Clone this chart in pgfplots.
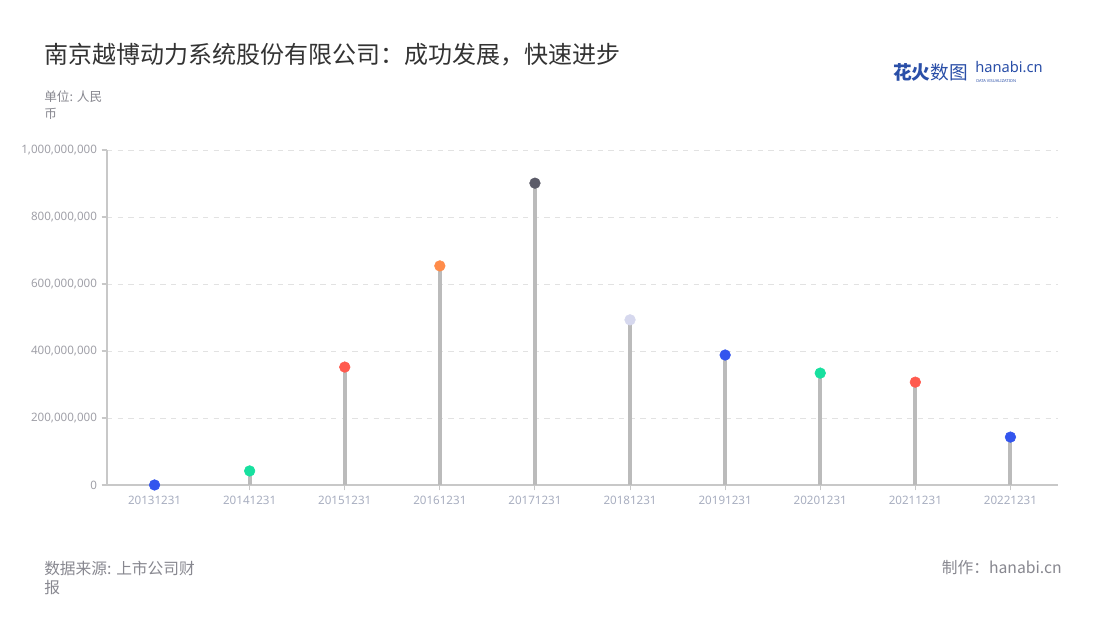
\documentclass[border=0pt]{standalone}
\usepackage{pgfplots}
\pgfplotsset{compat=1.18}
\usepackage{fontspec}
\setmainfont{Noto Sans CJK SC}
\newfontfamily\latinf{Noto Sans}
\definecolor{axisgray}{HTML}{C8C8C8}
\definecolor{gridgray}{HTML}{E2E2E2}
\definecolor{ticklab}{HTML}{A0A0A8}
\definecolor{xlab}{HTML}{A8AEC0}
\definecolor{stem}{HTML}{BBBBBB}
\definecolor{cblue}{HTML}{3355EE}
\definecolor{cgreen}{HTML}{17E09F}
\definecolor{cred}{HTML}{FF5A4E}
\definecolor{corange}{HTML}{FF8C4A}
\definecolor{cdark}{HTML}{5B5B68}
\definecolor{clav}{HTML}{D6D8EE}
\definecolor{titlec}{HTML}{333333}
\definecolor{subc}{HTML}{888890}
\definecolor{logoblue}{HTML}{2A4FA8}
\begin{document}
\begin{tikzpicture}[x=0.75pt,y=0.75pt]
\path[use as bounding box] (0,0) rectangle (1100,620);
\fill[white] (0,0) rectangle (1100,620);
% title
\node[anchor=west,inner sep=0pt,text=titlec,font=\fontsize{18}{20}\selectfont] at (44,565) {南京越博动力系统股份有限公司：成功发展，快速进步};
\node[anchor=west,inner sep=0pt,text=subc,font=\fontsize{9.5}{11}\selectfont] at (44,523) {单位: 人民};
\node[anchor=west,inner sep=0pt,text=subc,font=\fontsize{9.5}{11}\selectfont] at (44,506) {币};
% logo
\node[anchor=west,inner sep=0pt,text=logoblue,font=\fontsize{14}{15}\selectfont] at (893,548) {\textbf{花火}数图};
\node[anchor=base west,inner sep=0pt,text=logoblue,font=\latinf\fontsize{11}{12}\selectfont\bfseries] at (975,547) {hanabi.cn};
\node[anchor=base west,inner sep=0pt,text=logoblue,font=\latinf\fontsize{3}{3}\selectfont\bfseries] at (976,537) {DATA VISUALIZATION};
% footer
\node[anchor=west,inner sep=0pt,text=subc,font=\fontsize{11.8}{13}\selectfont] at (44,52) {数据来源: 上市公司财};
\node[anchor=west,inner sep=0pt,text=subc,font=\fontsize{11.8}{13}\selectfont] at (44,32) {报};
\node[anchor=east,inner sep=0pt,text=subc,font=\fontsize{11.8}{13}\selectfont] at (1062,52) {制作：hanabi.cn};
\begin{axis}[
  at={(80.25pt,101.25pt)}, anchor=south west,
  scale only axis, width=713.25pt, height=251.25pt,
  xmin=-0.5, xmax=9.5, ymin=0, ymax=1000000000,
  scaled y ticks=false,
  axis lines=left, axis line style={axisgray, line width=1.1pt, -},
  xtick={0,...,9},
  xticklabels={20131231,20141231,20151231,20161231,20171231,20181231,20191231,20201231,20211231,20221231},
  ytick={0,200000000,400000000,600000000,800000000,1000000000},
  yticklabels={0,{200,000,000},{400,000,000},{600,000,000},{800,000,000},{1,000,000,000}},
  tick style={axisgray, line width=0.8pt},
  tick align=outside, major tick length=4pt,
  x tick label style={text=xlab, font=\latinf\fontsize{8.7}{9}\selectfont, yshift=-1pt},
  y tick label style={text=ticklab, font=\latinf\fontsize{8.7}{9}\selectfont},
  /pgf/number format/assume math mode=true,
  ymajorgrids, grid style={gridgray, dashed, line width=0.6pt, dash pattern=on 4pt off 4pt},
  clip=false, axis on top=false,
]
\addplot[ycomb, stem, line width=3pt, no marks] coordinates {
 (0,0) (1,42000000) (2,352000000) (3,654000000) (4,901000000)
 (5,493000000) (6,388000000) (7,334000000) (8,307000000) (9,143000000)};
\addplot[only marks, mark=*, mark size=4pt, cblue, mark options={draw=cblue, fill=cblue}] coordinates {(0,0) (6,388000000) (9,143000000)};
\addplot[only marks, mark=*, mark size=4pt, mark options={draw=cgreen, fill=cgreen}] coordinates {(1,42000000) (7,334000000)};
\addplot[only marks, mark=*, mark size=4pt, mark options={draw=cred, fill=cred}] coordinates {(2,352000000) (8,307000000)};
\addplot[only marks, mark=*, mark size=4pt, mark options={draw=corange, fill=corange}] coordinates {(3,654000000)};
\addplot[only marks, mark=*, mark size=4pt, mark options={draw=cdark, fill=cdark}] coordinates {(4,901000000)};
\addplot[only marks, mark=*, mark size=4pt, mark options={draw=clav, fill=clav}] coordinates {(5,493000000)};
\end{axis}
\end{tikzpicture}
\end{document}
